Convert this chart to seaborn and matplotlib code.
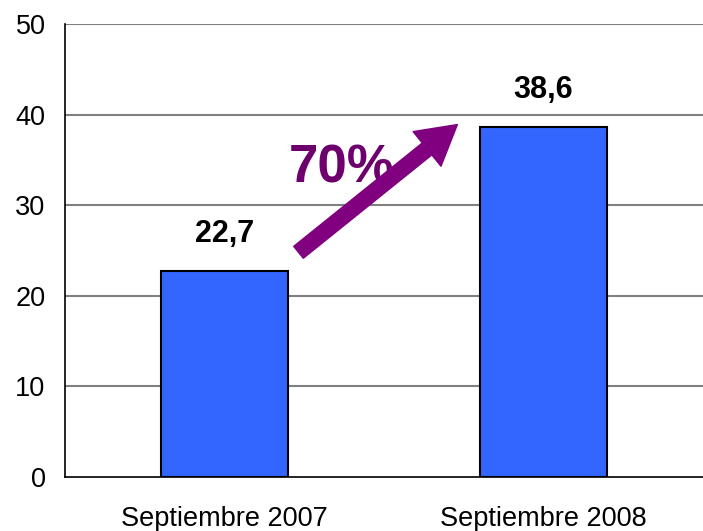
import matplotlib
matplotlib.use("Agg")
import matplotlib.pyplot as plt
import pandas as pd
import seaborn as sns

periods = ["Septiembre 2007", "Septiembre 2008"]
values = [22.7, 38.6]
value_labels = ["22,7", "38,6"]
growth_label = "70%"
y_ticks = [0, 10, 20, 30, 40, 50]

sns.set_style("white")
plt.rcParams["font.family"] = ["Liberation Sans", "DejaVu Sans"]

df = pd.DataFrame({"period": periods, "value": values})

fig = plt.figure(figsize=(7.03, 5.31), dpi=100)
ax = fig.add_axes([65 / 703, 54 / 531, 638 / 703, 453 / 531])

sns.barplot(data=df, x="period", y="value", color="#3366ff", saturation=1,
            width=0.4, edgecolor="black", linewidth=1.5, ax=ax, zorder=3)

ax.set_ylim(0, 50)
ax.set_xlim(-0.5, 1.5)
ax.set_yticks(y_ticks)
ax.set_yticklabels([str(t) for t in y_ticks], fontsize=19.5)
ax.set_xlabel("")
ax.set_ylabel("")
ax.tick_params(axis="x", which="major", length=0, labelsize=19.5, pad=21, labelcolor="black")
ax.set_xticks([-0.5, 0.5, 1.5], minor=True)
ax.tick_params(axis="x", which="minor", length=8, width=1, color="black", direction="out")
ax.tick_params(axis="y", length=7, width=1, color="black", direction="out", pad=7, labelcolor="black")

for t in y_ticks[1:]:
    ax.axhline(t, color="#808080", linewidth=1.5, zorder=1)

for s in ["top", "right"]:
    ax.spines[s].set_visible(False)
ax.spines["left"].set_color("black")
ax.spines["left"].set_linewidth(1.2)
ax.spines["bottom"].set_color("black")
ax.spines["bottom"].set_linewidth(1.2)

for i, (v, lab) in enumerate(zip(values, value_labels)):
    ax.text(i, v + 3.2, lab, ha="center", va="baseline", fontsize=22, fontweight="bold", color="black")

ax.annotate("", xy=(0.73, 38.9), xytext=(0.232, 24.8),
            arrowprops=dict(arrowstyle="simple,head_length=1.4,head_width=1.6,tail_width=0.55",
                            color="#800080", mutation_scale=20, shrinkA=0, shrinkB=0),
            zorder=5)
ax.text(0.366, 32.5, growth_label, ha="center", va="baseline", fontsize=38,
        fontweight="bold", color="#6e006e", zorder=4)

fig.savefig("out.png", dpi=100)
